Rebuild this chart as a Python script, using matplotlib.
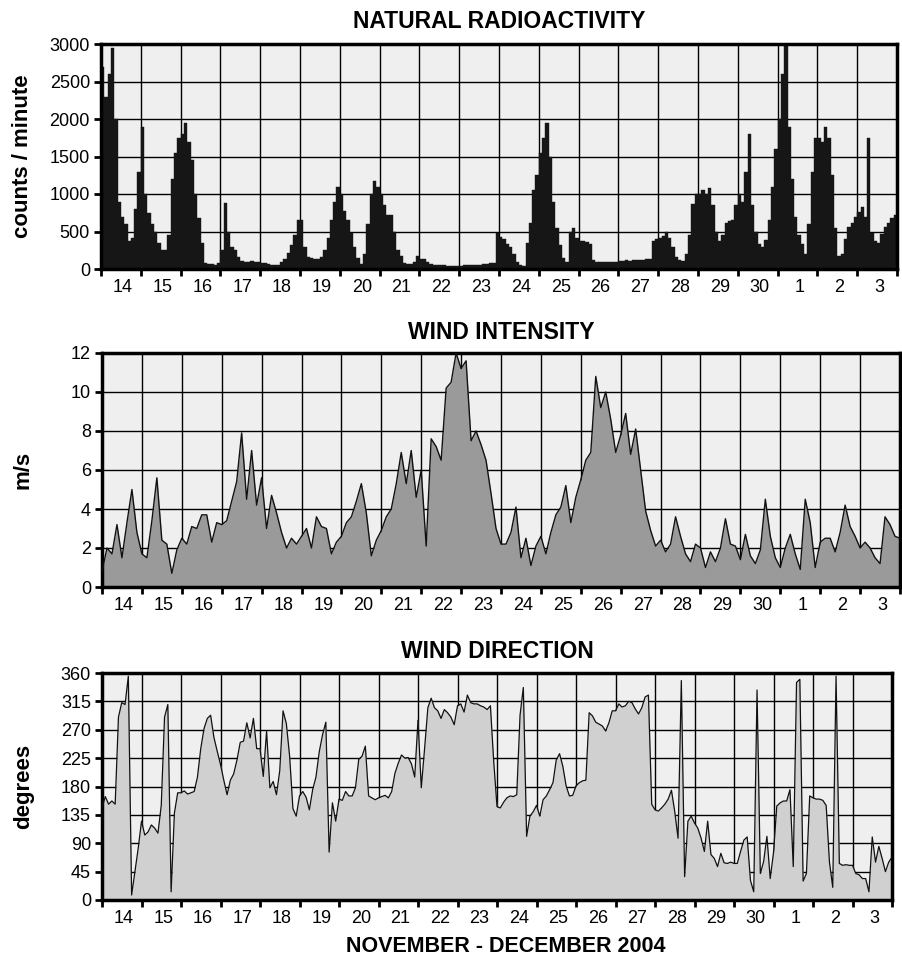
import numpy as np
import matplotlib
matplotlib.use('Agg')
import matplotlib.pyplot as plt
from matplotlib.ticker import FixedLocator, NullFormatter, FixedFormatter

plt.rcParams['font.family'] = ['Liberation Sans', 'DejaVu Sans']

# ---------------- data ----------------
start_day = 14          # 14 November 2004
n_days = 20             # 14 Nov .. 3 Dec
day_labels = ['14', '15', '16', '17', '18', '19', '20', '21', '22', '23',
              '24', '25', '26', '27', '28', '29', '30', '1', '2', '3']

radio_per_day = 12      # 2-hour values (counts / minute)
radioactivity = [
    2700, 2300, 2600, 2950, 2000, 900, 700, 600, 380, 420, 800, 1300,         # 14
    1900, 1000, 750, 600, 500, 350, 250, 260, 450, 1200, 1550, 1750,          # 15
    1800, 1950, 1700, 1450, 1000, 680, 350, 80, 70, 65, 60, 80,               # 16
    250, 880, 500, 300, 250, 160, 110, 100, 100, 105, 100, 95,                # 17
    80, 75, 70, 60, 55, 60, 90, 130, 220, 320, 450, 650,                      # 18
    650, 300, 160, 150, 140, 130, 160, 250, 420, 650, 900, 1100,              # 19
    1000, 780, 650, 480, 300, 150, 70, 200, 600, 1000, 1180, 1100,            # 20
    1000, 850, 720, 720, 500, 260, 180, 75, 65, 70, 100, 180,                 # 21
    140, 130, 90, 70, 60, 55, 50, 50, 45, 45, 45, 45,                         # 22
    45, 50, 50, 55, 55, 60, 60, 65, 70, 80, 85, 480,                          # 23
    430, 400, 340, 300, 200, 100, 50, 45, 350, 620, 1050, 1250,               # 24
    1550, 1750, 1950, 1500, 900, 550, 320, 150, 100, 500, 550, 420,           # 25
    380, 370, 360, 340, 120, 90, 90, 95, 100, 100, 95, 100,                   # 26
    110, 105, 115, 110, 120, 115, 125, 120, 130, 140, 380, 400,               # 27
    420, 440, 500, 420, 300, 160, 120, 110, 200, 450, 870, 1000,              # 28
    1000, 1050, 1000, 1080, 850, 500, 370, 450, 620, 640, 650, 850,           # 29
    1000, 900, 1300, 1800, 850, 500, 330, 300, 390, 650, 1100, 1600,          # 30
    2000, 2600, 3000, 1900, 1200, 700, 450, 330, 200, 600, 1300, 1750,        # 1
    1750, 1700, 1900, 1750, 1250, 550, 170, 200, 400, 560, 620, 700,          # 2
    760, 830, 700, 1750, 480, 380, 350, 470, 560, 610, 680, 720,              # 3
]

wind_per_day = 8        # 3-hour values (m/s), last value = end of 3 Dec
wind_speed = [
    0.8, 2.0, 1.7, 3.2, 1.5, 3.3, 5.0, 2.8,          # 14
    1.7, 1.5, 3.4, 5.6, 2.4, 2.2, 0.7, 1.9,          # 15
    2.5, 2.2, 3.1, 3.0, 3.7, 3.7, 2.3, 3.3,          # 16
    3.2, 3.4, 4.4, 5.4, 7.9, 4.5, 7.0, 4.2,          # 17
    5.6, 3.0, 4.7, 3.8, 2.8, 2.0, 2.5, 2.2,          # 18
    2.6, 3.0, 2.0, 3.6, 3.1, 3.0, 1.7, 2.3,          # 19
    2.6, 3.3, 3.6, 4.4, 5.3, 3.8, 1.6, 2.4,          # 20
    2.9, 3.6, 4.0, 5.3, 6.9, 5.3, 7.0, 4.6,          # 21
    6.0, 2.1, 7.6, 7.2, 6.5, 10.2, 10.5, 12.0,       # 22
    11.2, 11.6, 7.5, 8.0, 7.3, 6.5, 4.8, 3.0,        # 23
    2.2, 2.2, 2.8, 4.1, 1.5, 2.5, 1.1, 2.1,          # 24
    2.6, 1.7, 2.8, 3.7, 4.1, 5.2, 3.3, 4.6,          # 25
    5.5, 6.5, 6.9, 10.8, 9.2, 10.0, 8.6, 6.9,        # 26
    7.8, 8.9, 6.8, 8.1, 6.0, 3.9, 2.9, 2.1,          # 27
    2.4, 1.8, 2.2, 3.6, 2.6, 1.7, 1.3, 2.2,          # 28
    2.0, 1.0, 1.8, 1.3, 2.0, 3.5, 2.2, 2.1,          # 29
    1.4, 2.7, 1.6, 1.2, 1.9, 4.5, 2.6, 1.5,          # 30
    1.0, 2.0, 2.7, 1.7, 0.9, 4.5, 3.3, 1.0,          # 1
    2.3, 2.5, 2.5, 1.8, 2.8, 4.2, 3.1, 2.6,          # 2
    2.0, 2.3, 2.0, 1.5, 1.2, 3.6, 3.2, 2.6,          # 3
    2.5,
]

dir_per_day = 12        # 2-hour values (degrees), last value = end of 3 Dec
wind_dir = [
    146, 164, 152, 157, 152, 290, 313, 310, 355, 8, 45, 82,           # 14
    125, 103, 108, 119, 114, 106, 150, 290, 310, 13, 138, 170,        # 15
    170, 173, 168, 170, 172, 195, 240, 272, 288, 293, 258, 236,       # 16
    215, 190, 167, 190, 200, 222, 250, 252, 281, 257, 288, 240,       # 17
    240, 196, 268, 178, 188, 167, 205, 300, 280, 228, 145, 133,       # 18
    165, 172, 163, 143, 175, 195, 235, 262, 282, 76, 154, 125,        # 19
    160, 158, 172, 165, 165, 178, 223, 228, 244, 165, 162, 159,       # 20
    162, 164, 166, 162, 172, 201, 217, 230, 225, 226, 216, 195,       # 21
    285, 178, 240, 305, 320, 305, 300, 288, 302, 297, 290, 278,       # 22
    308, 311, 298, 325, 313, 311, 311, 308, 306, 302, 308, 220,       # 23
    148, 146, 155, 162, 165, 164, 167, 293, 337, 101, 133, 140,       # 24
    150, 133, 159, 165, 175, 186, 222, 232, 212, 181, 165, 166,       # 25
    181, 186, 189, 190, 297, 292, 282, 279, 276, 268, 281, 300,       # 26
    300, 311, 306, 308, 315, 313, 303, 295, 305, 322, 325, 152,       # 27
    143, 141, 146, 152, 160, 174, 140, 98, 348, 37, 125, 133,         # 28
    122, 114, 98, 77, 125, 72, 66, 53, 74, 59, 58, 60,                # 29
    58, 58, 77, 95, 100, 31, 13, 333, 42, 61, 101, 34,                # 30
    75, 149, 154, 157, 157, 175, 53, 345, 350, 30, 42, 165,           # 1
    162, 160, 160, 158, 150, 60, 20, 355, 58, 55, 56, 55,             # 2
    55, 42, 40, 34, 34, 13, 100, 60, 85, 66, 45, 60,                  # 3
    68,
]

titles = ['NATURAL RADIOACTIVITY', 'WIND INTENSITY', 'WIND DIRECTION']
ylabels = ['counts / minute', 'm/s', 'degrees']
xlabel = 'NOVEMBER - DECEMBER 2004'
radio_ticks = [0, 500, 1000, 1500, 2000, 2500, 3000]
speed_ticks = [0, 2, 4, 6, 8, 10, 12]
dir_ticks = [0, 45, 90, 135, 180, 225, 270, 315, 360]

# ---------------- figure ----------------
W, H = 902, 964
fig = plt.figure(figsize=(W / 100, H / 100), dpi=100)

def px_axes(left, top, right, bottom):
    return fig.add_axes([left / W, 1 - bottom / H, (right - left) / W, (bottom - top) / H])

ax1 = px_axes(101, 44, 897, 269)
ax2 = px_axes(102, 353, 900, 587)
ax3 = px_axes(102, 673, 892, 900)

bg = '#eeefee'
x_major = np.arange(start_day, start_day + n_days + 1)
x_label_pos = np.arange(start_day, start_day + n_days) + 0.55

for ax, title, ylab, yt, pad in zip((ax1, ax2, ax3), titles, ylabels,
                                     (radio_ticks, speed_ticks, dir_ticks),
                                     (11.5, 10, 10.5)):
    ax.set_facecolor(bg)
    ax.set_xlim(start_day, start_day + n_days)
    ax.set_ylim(yt[0], yt[-1])
    ax.set_yticks(yt)
    ax.xaxis.set_major_locator(FixedLocator(x_major))
    ax.xaxis.set_major_formatter(NullFormatter())
    ax.xaxis.set_minor_locator(FixedLocator(x_label_pos))
    ax.xaxis.set_minor_formatter(FixedFormatter(day_labels))
    ax.tick_params(axis='x', which='major', length=5, width=2, color='black', direction='out')
    ax.tick_params(axis='x', which='minor', length=0, pad=7, labelsize=13)
    ax.tick_params(axis='y', which='major', length=5, width=2, pad=3, labelsize=13, direction='out')
    ax.set_axisbelow(True)
    ax.grid(True, which='major', color='black', linewidth=1.0)
    for s in ax.spines.values():
        s.set_linewidth(2.5)
        s.set_color('black')
    ax.set_title(title, fontsize=16.5, fontweight='bold', pad=pad)
    ax.set_ylabel(ylab, fontsize=16, fontweight='bold')
    ax.yaxis.set_label_coords(-0.086, 0.5)

# radioactivity bars
t_radio = start_day + np.arange(len(radioactivity)) / radio_per_day
ax1.bar(t_radio, radioactivity, width=1 / radio_per_day, align='edge',
        color='#161616', edgecolor='#161616', linewidth=0.3, zorder=2)

# wind intensity
t_wind = start_day + np.arange(len(wind_speed)) / wind_per_day
ax2.fill_between(t_wind, 0, wind_speed, color='#9a9a9a', linewidth=0, zorder=2)
ax2.plot(t_wind, wind_speed, color='#111111', linewidth=1.0, zorder=3)

# wind direction
t_dir = start_day + np.arange(len(wind_dir)) / dir_per_day
ax3.fill_between(t_dir, 0, wind_dir, color='#d0d0d0', linewidth=0, zorder=2)
ax3.plot(t_dir, wind_dir, color='#111111', linewidth=0.9, zorder=3)

ax3.set_xlabel(xlabel, fontsize=15.5, fontweight='bold')
ax3.xaxis.set_label_coords(0.511, -0.16)

fig.savefig('out.png', dpi=100)
